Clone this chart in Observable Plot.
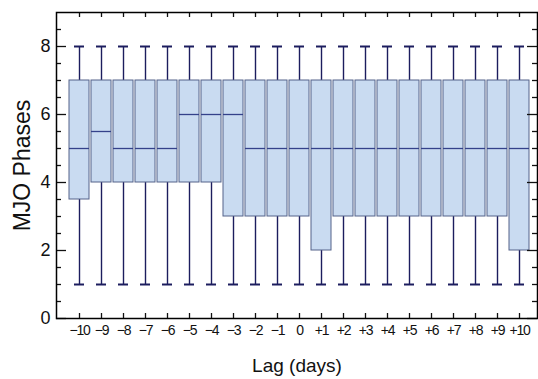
<!DOCTYPE html>
<html>
<head>
<meta charset="utf-8">
<script src="https://cdn.jsdelivr.net/npm/d3@7"></script>
<script src="https://cdn.jsdelivr.net/npm/@observablehq/plot@0.6"></script>
<style>
  body { margin: 0; background: #fff; }
  #chart svg { display: block; }
  #chart g[aria-label="x-axis tick label"] text { letter-spacing: -1.2px; }
</style>
</head>
<body>
<div id="chart"></div>
<script>
// Lag categories (tick labels)
const lags = ["−10","−9","−8","−7","−6","−5","−4","−3","−2","−1","0","+1","+2","+3","+4","+5","+6","+7","+8","+9","+10"];
// Box-plot summaries per lag
const whiskerLow  = [1,1,1,1,1,1,1,1,1,1,1,1,1,1,1,1,1,1,1,1,1];
const quartile1   = [3.5,4,4,4,4,4,4,3,3,3,3,2,3,3,3,3,3,3,3,3,2];
const medians     = [5,5.5,5,5,5,6,6,6,5,5,5,5,5,5,5,5,5,5,5,5,5];
const quartile3   = [7,7,7,7,7,7,7,7,7,7,7,7,7,7,7,7,7,7,7,7,7];
const whiskerHigh = [8,8,8,8,8,8,8,8,8,8,8,8,8,8,8,8,8,8,8,8,8];
// Y ticks
const yMajorTicks = [0,2,4,6,8];
const yMinorTicks = [0.5,1,1.5,2.5,3,3.5,4.5,5,5.5,6.5,7,7.5,8.5];

const rows = lags.map((lag, i) => ({
  lag, lo: whiskerLow[i], q1: quartile1[i], med: medians[i], q3: quartile3[i], hi: whiskerHigh[i]
}));

const W = 538, H = 379;
const mL = 56, mR = 1, mT = 12, mB = 61;
const fw = W - mL - mR, fh = H - mT - mB;

const navy = "#1c1d5e";
const tickColor = "#111";

const chart = Plot.plot({
  width: W,
  height: H,
  marginLeft: mL,
  marginRight: mR,
  marginTop: mT,
  marginBottom: mB,
  style: { fontFamily: "'Liberation Sans', Arial, sans-serif", background: "#fff" },
  x: { type: "band", domain: lags, paddingInner: 0.1, paddingOuter: 0.43, align: 0.63, axis: null },
  y: { domain: [0, 9], axis: null },
  marks: [
    // whiskers
    Plot.ruleX(rows, { x: "lag", y1: "lo", y2: "q1", stroke: navy, strokeWidth: 1.4 }),
    Plot.ruleX(rows, { x: "lag", y1: "q3", y2: "hi", stroke: navy, strokeWidth: 1.4 }),
    // caps
    Plot.tickY(rows, { x: "lag", y: "lo", stroke: navy, strokeWidth: 2, insetLeft: 5, insetRight: 5 }),
    Plot.tickY(rows, { x: "lag", y: "hi", stroke: navy, strokeWidth: 2, insetLeft: 5, insetRight: 5 }),
    // boxes
    Plot.barY(rows, { x: "lag", y1: "q1", y2: "q3", fill: "#c9dbf1", stroke: "#55638a", strokeWidth: 1 }),
    // medians
    Plot.tickY(rows, { x: "lag", y: "med", stroke: "#34418a", strokeWidth: 1.3 }),
    // inward ticks: left / right
    Plot.tickY(yMajorTicks, { y: d => d, insetRight: fw - 10, stroke: tickColor, strokeWidth: 1.3 }),
    Plot.tickY(yMinorTicks, { y: d => d, insetRight: fw - 5, stroke: tickColor, strokeWidth: 1.3 }),
    Plot.tickY(yMajorTicks, { y: d => d, insetLeft: fw - 10, stroke: tickColor, strokeWidth: 1.3 }),
    Plot.tickY(yMinorTicks, { y: d => d, insetLeft: fw - 5, stroke: tickColor, strokeWidth: 1.3 }),
    // inward ticks: top / bottom
    Plot.tickX(lags, { x: d => d, insetBottom: fh - 5, stroke: tickColor, strokeWidth: 1.3 }),
    Plot.tickX(lags, { x: d => d, insetTop: fh - 5, stroke: tickColor, strokeWidth: 1.3 }),
    // axes (labels only)
    Plot.axisY(yMajorTicks, { anchor: "left", tickSize: 0, tickPadding: 6, fontSize: 18, label: null, fill: "#111" }),
    Plot.axisX({ anchor: "bottom", tickSize: 0, tickPadding: 7, fontSize: 14, label: null,
      fontFamily: "'Liberation Sans', Arial, sans-serif", fill: "#111" }),
    // axis titles
    Plot.text(["MJO Phases"], { text: d => d, frameAnchor: "left", textAnchor: "middle", lineAnchor: "middle",
      dx: -34, rotate: -90, fontSize: 23, fill: "#111" }),
    Plot.text(["Lag (days)"], { text: d => d, frameAnchor: "bottom", textAnchor: "middle", lineAnchor: "middle",
      dy: 47, fontSize: 19, fill: "#111" }),
    Plot.frame({ stroke: "#000", strokeWidth: 1.5 })
  ]
});

document.getElementById("chart").appendChild(chart);
</script>
</body>
</html>
